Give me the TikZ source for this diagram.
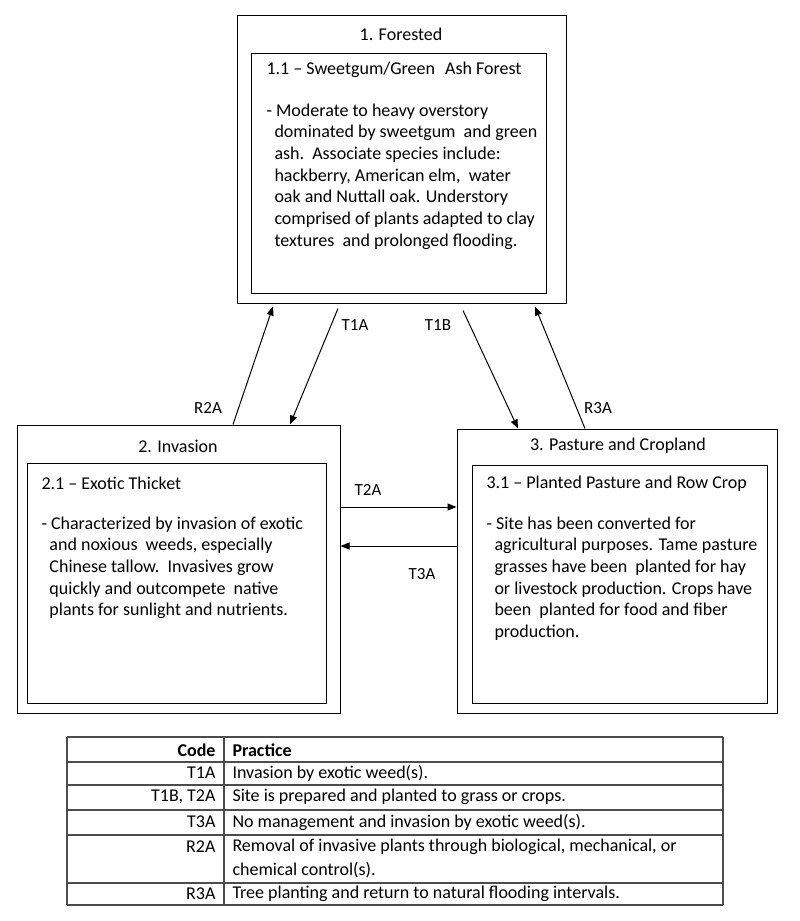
\documentclass[tikz,border=0pt]{standalone}
\usepackage{fontspec}
\setmainfont{Carlito}
\usetikzlibrary{arrows.meta}
\newcommand{\ind}{\hspace*{8pt}}

\begin{document}
\begin{tikzpicture}[x=1pt, y=-1pt, line width=1pt,
  state/.style = {draw, inner sep=0pt},
  head/.style = {font=\fontsize{18}{21}\selectfont},
  body/.style = {anchor=north west, align=left, inner sep=0pt, font=\fontsize{18}{21.7}\selectfont},
  lbl/.style = {font=\fontsize{17}{20}\selectfont},
  arr/.style = {-{Triangle[length=9pt,width=7pt]}},
  rule/.style = {draw=black!70, line width=1.3pt},
  cell/.style = {font=\fontsize{18}{23}\selectfont, inner sep=0pt}]
      \useasboundingbox (0,0) rectangle (800,921);

      % states
      \node[state, minimum width=329, minimum height=288] (forest) at (401.5,159) {};
      \node[state, minimum width=295, minimum height=240] (forestin) at (398.5,173) {};
      \node[state, minimum width=323, minimum height=288] (invasion) at (178.5,569) {};
      \node[state, minimum width=299, minimum height=240] (invasionin) at (176.5,583) {};
      \node[state, minimum width=320, minimum height=284] (pasture) at (617,571) {};
      \node[state, minimum width=295, minimum height=238] (pasturein) at (619.5,584) {};

      \node[head] (forest-title) at (401,34) {1. Forested};
      \node[head] (invasion-title) at (178,446) {2. Invasion};
      \node[head] (pasture-title) at (618,446) {3. Pasture and Cropland};

      \node[head, anchor=west, inner sep=0pt] (forest-sub) at (266,70) {1.1 -- Sweetgum/Green\hspace{10pt}Ash Forest};
      \node[body] (forest-text) at (266,103) {- Moderate to heavy overstory\\
        \ind dominated by sweetgum\ \ and green\\
        \ind ash.\ \ Associate species include:\\
        \ind hackberry, American elm,\ \ water\\
        \ind oak and Nuttall oak. Understory\\
        \ind comprised of plants adapted to clay\\
        \ind textures\ \ and prolonged flooding.};

      \node[head, anchor=west, inner sep=0pt] (invasion-sub) at (41,483) {2.1 -- Exotic Thicket};
      \node[body] (invasion-text) at (41,516) {- Characterized by invasion of exotic\\
        \ind and noxious\ \ weeds, especially\\
        \ind Chinese tallow.\ \ Invasives grow\\
        \ind quickly and outcompete\ \ native\\
        \ind plants for sunlight and nutrients.};

      \node[head, anchor=west, inner sep=0pt] (pasture-sub) at (486,484) {3.1 -- Planted Pasture and Row Crop};
      \node[body] (pasture-text) at (486,516) {- Site has been converted for\\
        \ind agricultural purposes. Tame pasture\\
        \ind grasses have been\ \ planted for hay\\
        \ind or livestock production. Crops have\\
        \ind been\ \ planted for food and fiber\\
        \ind production.};

      % transitions
      \draw[arr] ([xshift=54.5pt]invasion.north) -- ([xshift=-128.5pt,yshift=-3pt]forest.south);
      \draw[arr] ([xshift=-63.5pt,yshift=-5pt]forest.south) -- ([xshift=111.5pt]invasion.north);
      \draw[arr] ([xshift=61.5pt,yshift=-7pt]forest.south) -- ([xshift=-99pt]pasture.north);
      \draw[arr] ([xshift=-32pt]pasture.north) -- ([xshift=133.5pt,yshift=-3pt]forest.south);
      \draw[arr] ([yshift=62pt]invasion.east) -- ([yshift=64pt]pasture.west);
      \draw[arr] ([yshift=25pt]pasture.west) -- ([yshift=23pt]invasion.east);

      \node[lbl] (r2a) at (208,408) {R2A};
      \node[lbl] (t1a) at (355,325) {T1A};
      \node[lbl] (t1b) at (438,325) {T1B};
      \node[lbl] (r3a) at (598,408) {R3A};
      \node[lbl] (t2a) at (368,490) {T2A};
      \node[lbl] (t3a) at (422,574) {T3A};

      % table
      \foreach \y in {737,762,785,810,835,883,905}
        \draw[rule] (67,\y) -- (723,\y);
      \foreach \x in {67,224,723}
        \draw[rule] (\x,737) -- (\x,905);
      \node[cell, anchor=east] (code-head) at (216,750) {\textbf{Code}};
      \node[cell, anchor=west] (practice-head) at (232,750) {\textbf{Practice}};
      \foreach \y/\code/\practice in {773/T1A/{Invasion by exotic weed(s).},
          797/{T1B, T2A}/{Site is prepared and planted to grass or crops.},
          822/T3A/{No management and invasion by exotic weed(s).},
          847/R2A/{Removal of invasive plants through biological, mechanical, or},
          894/R3A/{Tree planting and return to natural flooding intervals.}}
      {
        \node[cell, anchor=east] at (216,\y) {\code};
        \node[cell, anchor=west] at (232,\y) {\practice};
      }
      \node[cell, anchor=west] (r2a-more) at (232,870) {chemical control(s).};
\end{tikzpicture}
\end{document}
